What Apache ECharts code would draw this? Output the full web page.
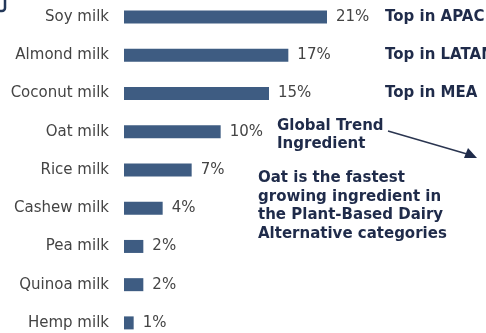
<!DOCTYPE html>
<html>
<head>
<meta charset="utf-8">
<script src="https://cdn.jsdelivr.net/npm/echarts@6/dist/echarts.min.js"></script>
<style>
  html, body { margin: 0; padding: 0; background: #fff; }
  #chart { width: 486px; height: 333px; }
</style>
</head>
<body>
<div id="chart"></div>
<script>
  // plant-based milk ingredient shares
  var categories = ['Soy milk', 'Almond milk', 'Coconut milk', 'Oat milk', 'Rice milk',
    'Cashew milk', 'Pea milk', 'Quinoa milk', 'Hemp milk'];
  var shares = [21, 17, 15, 10, 7, 4, 2, 2, 1];
  var regionNotes = ['Top in APAC', 'Top in LATAM', 'Top in MEA'];

  var myChart = echarts.init(document.getElementById('chart'));
  var navy = '#1f2b4a';
  var boldFont = 'bold 15px DejaVu Sans';

  var options = {
    backgroundColor: '#fff',
    animation: false,
    grid: { left: 124, right: 14, top: -2, height: 344, outerBoundsMode: 'none', containLabel: false },
    xAxis: {
      type: 'value',
      min: 0,
      max: 36,
      show: false
    },
    yAxis: {
      type: 'category',
      inverse: true,
      data: categories,
      axisLine: { show: false },
      axisTick: { show: false },
      axisLabel: {
        color: '#444',
        fontSize: 15,
        fontFamily: 'DejaVu Sans',
        margin: 15
      }
    },
    series: [{
      type: 'bar',
      data: shares,
      barWidth: 13,
      itemStyle: { color: '#3e5c82' },
      label: {
        show: true,
        position: 'right',
        distance: 9,
        formatter: '{c}%',
        color: '#444',
        fontSize: 15,
        fontFamily: 'DejaVu Sans'
      }
    }],
    graphic: [
      // cut-off icon frame in the top-left corner
      { type: 'rect', shape: { x: -12, y: -6, width: 17, height: 17, r: 3 }, style: { fill: 'none', stroke: '#23385a', lineWidth: 2.5 } },
      { type: 'text', left: 385, top: 10, style: { text: regionNotes[0], fill: navy, font: boldFont } },
      { type: 'text', left: 385, top: 48, style: { text: regionNotes[1], fill: navy, font: boldFont } },
      { type: 'text', left: 385, top: 86, style: { text: regionNotes[2], fill: navy, font: boldFont } },
      { type: 'text', left: 277, top: 117, style: { text: 'Global Trend\nIngredient', fill: navy, font: boldFont, lineHeight: 18 } },
      { type: 'line', shape: { x1: 388, y1: 131, x2: 467, y2: 154 }, style: { stroke: '#2a3550', lineWidth: 1.5 } },
      { type: 'polygon', shape: { points: [[477, 158], [464, 158], [468, 148]] }, style: { fill: navy } },
      { type: 'text', left: 258, top: 169, style: { text: 'Oat is the fastest\ngrowing ingredient in\nthe Plant-Based Dairy\nAlternative categories', fill: navy, font: boldFont, lineHeight: 18.5 } }
    ]
  };
  myChart.setOption(options);
</script>
</body>
</html>
